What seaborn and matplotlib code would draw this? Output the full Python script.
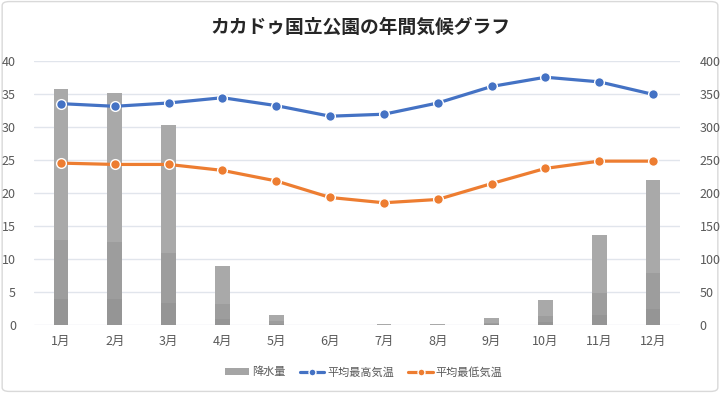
import numpy as np
import pandas as pd
import matplotlib
matplotlib.use("Agg")
import matplotlib.pyplot as plt
import seaborn as sns
from matplotlib.patches import Patch, FancyBboxPatch
from matplotlib.lines import Line2D

months = ["1月", "2月", "3月", "4月", "5月", "6月", "7月", "8月", "9月", "10月", "11月", "12月"]
rain = [357, 351, 303, 89, 15, 0, 2, 2, 10, 38, 136, 219]
tmax = [33.5, 33.1, 33.6, 34.4, 33.2, 31.6, 31.9, 33.6, 36.1, 37.5, 36.8, 34.9]
tmin = [24.5, 24.3, 24.3, 23.4, 21.8, 19.3, 18.5, 19.0, 21.4, 23.7, 24.8, 24.8]
title = "カカドゥ国立公園の年間気候グラフ"
labels = ["降水量", "平均最高気温", "平均最低気温"]

sns.set_theme(style="white")
plt.rcParams['font.family'] = ['Noto Sans CJK JP', 'DejaVu Sans']

df = pd.DataFrame({"month": months, "rain": rain, "tmax": tmax, "tmin": tmin})
df["rain_low"] = df["rain"] * 0.36
df["rain_base"] = df["rain"] * 0.11

fig = plt.figure(figsize=(7.2, 3.93), dpi=100)
border = FancyBboxPatch((0.003, 0.004), 0.994, 0.992, boxstyle="round,pad=0,rounding_size=0.01",
                        transform=fig.transFigure, facecolor="none", edgecolor="#d9d9d9", lw=1, zorder=-10)
fig.patches.append(border)
ax = fig.add_axes([34/720, 1 - 325/393, (680-34)/720, (325-60.7)/393])
ax2 = ax.twinx()

# bars on right axis
bar_kw = dict(width=0.27, saturation=1, linewidth=0, edgecolor="none", zorder=1)
sns.barplot(data=df, x="month", y="rain", ax=ax2, color="#a9a9a9", **bar_kw)
sns.barplot(data=df, x="month", y="rain_low", ax=ax2, color="#9d9d9d", **bar_kw)
sns.barplot(data=df, x="month", y="rain_base", ax=ax2, color="#959595", **bar_kw)
ax2.set_ylim(0, 400)
ax2.set_yticks(np.arange(0, 401, 50))
ax2.set_ylabel("")
ax2.set_xlabel("")

ax.set_zorder(ax2.get_zorder() + 1)
ax.patch.set_visible(False)
x = np.arange(len(months))
sns.lineplot(x=x, y=tmax, ax=ax, color="#4472C4", lw=2.3, marker="o", markersize=7,
             markeredgecolor="white", markeredgewidth=1)
sns.lineplot(x=x, y=tmin, ax=ax, color="#ED7D31", lw=2.3, marker="o", markersize=7,
             markeredgecolor="white", markeredgewidth=1)
ax.set_ylim(0, 40)
ax.set_yticks(np.arange(0, 41, 5))
ax.set_xlim(-0.5, 11.5)
ax2.set_xlim(-0.5, 11.5)
ax.set_xticks(x)
ax.set_xticklabels(months)

for a in (ax, ax2):
    for s in a.spines.values():
        s.set_visible(False)
    a.tick_params(axis="both", length=0, labelsize=9, labelcolor="#595959")
ax.tick_params(axis="y", pad=13)
ax.tick_params(axis="x", pad=7)
ax2.tick_params(axis="y", pad=14)
ax.grid(False)
ax2.grid(False)
for v in np.arange(0, 41, 5):
    ax2.axhline(v * 10, color="#e1e5ec", lw=1, zorder=0)

handles = [Patch(facecolor="#a5a5a5", edgecolor="none"),
           Line2D([0], [0], color="#4472C4", lw=2.3, marker="o", markersize=5, markeredgecolor="white"),
           Line2D([0], [0], color="#ED7D31", lw=2.3, marker="o", markersize=5, markeredgecolor="white")]
fig.legend(handles, labels, loc="center", bbox_to_anchor=(0.505, 1 - 372/393), ncol=3, frameon=False,
           fontsize=8, handlelength=2.2, handleheight=0.5, columnspacing=1.3, handletextpad=0.25,
           labelcolor="#595959")

fig.text(0.5, 1 - 27/393, title, ha="center", va="center", fontsize=13.5, fontweight="bold", color="#262626")

fig.savefig("out.png", dpi=100)
